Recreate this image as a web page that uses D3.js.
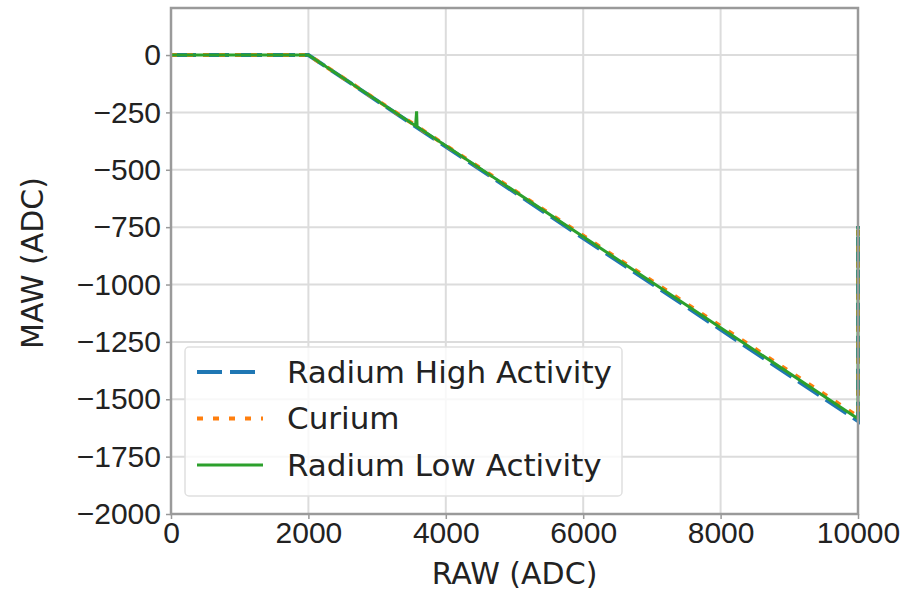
<!DOCTYPE html>
<html>
<head>
<meta charset="utf-8">
<script src="https://cdn.jsdelivr.net/npm/d3@7"></script>
<style>
  body { margin: 0; background: #fff; }
  svg { font-family: "DejaVu Sans", sans-serif; }
</style>
</head>
<body>
<div id="chart"></div>
<script>
// values
const xTicks = [0, 2000, 4000, 6000, 8000, 10000];
const yTicks = [0, -250, -500, -750, -1000, -1250, -1500, -1750, -2000];

const radiumHighRaw = [0, 2000, 10000, 10000];
const radiumHighMaw = [0, 0, -1595, -745];

const curiumRaw = [0, 2000, 10000, 10000];
const curiumMaw = [0, 0, -1575, -745];

const radiumLowRaw = [0, 2000, 3560, 3575, 3582, 10000, 10000];
const radiumLowMaw = [0, 0, -309, -245, -312, -1585, -745];

const seriesNames = ["Radium High Activity", "Curium", "Radium Low Activity"];

let series = [
    { name: seriesNames[0], raw: radiumHighRaw, maw: radiumHighMaw, color: "#1f77b4", width: 4, dash: "25,8" },
    { name: seriesNames[1], raw: curiumRaw, maw: curiumMaw, color: "#ff7f0e", width: 4, dash: "6,10" },
    { name: seriesNames[2], raw: radiumLowRaw, maw: radiumLowMaw, color: "#2ca02c", width: 3, dash: null }
];

let margin = { top: 8, right: 54, bottom: 77, left: 171 };
let width = 912 - margin.left - margin.right;
let height = 591 - margin.top - margin.bottom;

let svg = d3.select("#chart").append("svg")
    .attr("width", 912)
    .attr("height", 591);

let g = svg.append("g")
    .attr("transform", "translate(" + margin.left + "," + margin.top + ")");

let x = d3.scaleLinear().domain([0, 10000]).range([0, width]);
let y = d3.scaleLinear().domain([-2000, 205]).range([height, 0]);

// grid
g.append("g").selectAll("line")
    .data(xTicks)
    .enter().append("line")
    .attr("x1", d => x(d)).attr("x2", d => x(d))
    .attr("y1", 0).attr("y2", height)
    .attr("stroke", "#dcdcdc").attr("stroke-width", 2);

g.append("g").selectAll("line")
    .data(yTicks)
    .enter().append("line")
    .attr("x1", 0).attr("x2", width)
    .attr("y1", d => y(d)).attr("y2", d => y(d))
    .attr("stroke", "#dcdcdc").attr("stroke-width", 2);

// lines
let line = d3.line()
    .x(d => x(d[0]))
    .y(d => y(d[1]));

series.forEach(s => {
    g.append("path")
        .datum(s.raw.map((r, i) => [r, s.maw[i]]))
        .attr("d", line)
        .attr("fill", "none")
        .attr("stroke", s.color)
        .attr("stroke-width", s.width)
        .attr("stroke-dasharray", s.dash);
});

// axes
let xAxis = d3.axisBottom(x).tickValues(xTicks).tickSize(5).tickPadding(3).tickFormat(d3.format("d"));
let yAxis = d3.axisLeft(y).tickValues(yTicks).tickSize(5).tickPadding(5)
    .tickFormat(d => d < 0 ? "\u2212" + Math.abs(d) : d);

let gx = g.append("g")
    .attr("transform", "translate(0," + height + ")")
    .call(xAxis);
let gy = g.append("g").call(yAxis);

[gx, gy].forEach(a => {
    a.select(".domain").remove();
    a.selectAll(".tick line").attr("stroke", "#999").attr("stroke-width", 1.5);
    a.selectAll(".tick text").attr("fill", "#222").style("font-size", "30px");
});

// frame
g.append("rect")
    .attr("width", width).attr("height", height)
    .attr("fill", "none")
    .attr("stroke", "#9a9a9a")
    .attr("stroke-width", 2.5);

// axis labels
svg.append("text")
    .attr("x", margin.left + width / 2)
    .attr("y", 584)
    .attr("text-anchor", "middle")
    .attr("fill", "#222")
    .style("font-size", "30px")
    .text("RAW (ADC)");

svg.append("text")
    .attr("transform", "translate(43," + 263 + ") rotate(-90)")
    .attr("text-anchor", "middle")
    .attr("fill", "#222")
    .style("font-size", "30px")
    .text("MAW (ADC)");

// legend
let legend = g.append("g").attr("transform", "translate(14,339)");
legend.append("rect")
    .attr("width", 437).attr("height", 149)
    .attr("rx", 4)
    .attr("fill", "rgba(255,255,255,0.8)")
    .attr("stroke", "#e0e0e0")
    .attr("stroke-width", 1.5);

series.forEach((s, i) => {
    let row = legend.append("g").attr("transform", "translate(0," + (25 + i * 46.5) + ")");
    row.append("line")
        .attr("x1", 12).attr("x2", 78)
        .attr("stroke", s.color)
        .attr("stroke-width", s.width)
        .attr("stroke-dasharray", s.dash);
    row.append("text")
        .attr("x", 102)
        .attr("dy", "0.35em")
        .attr("fill", "#222")
        .style("font-size", "31px")
        .text(s.name);
});
</script>
</body>
</html>
